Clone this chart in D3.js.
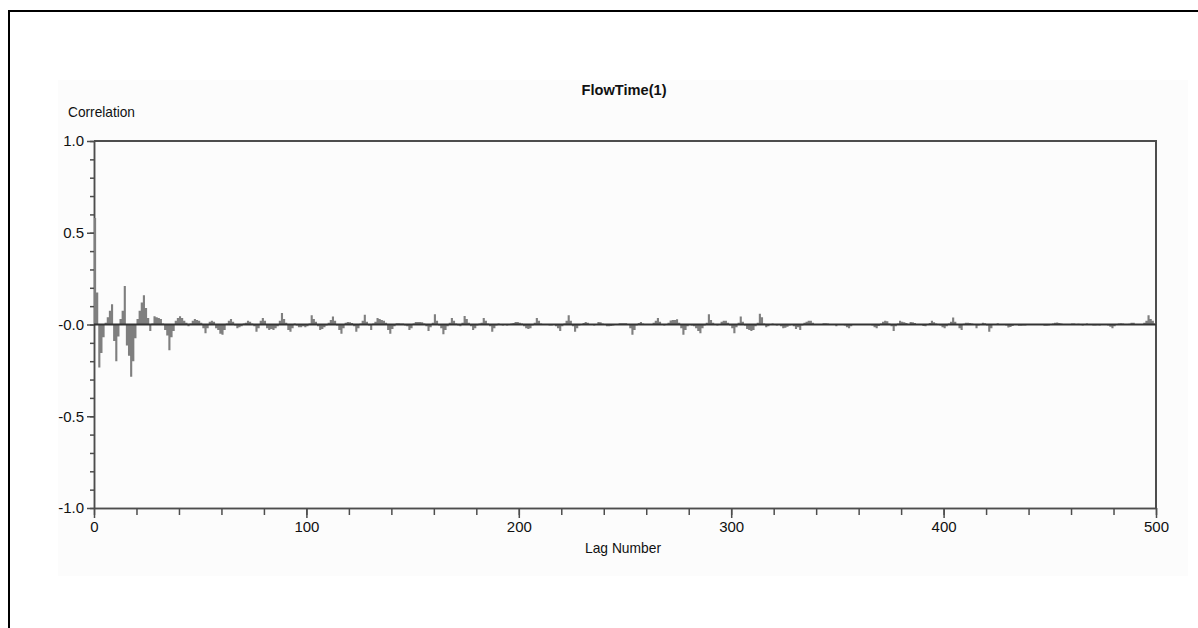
<!DOCTYPE html>
<html>
<head>
<meta charset="utf-8">
<script src="https://cdn.jsdelivr.net/npm/d3@7.9.0/dist/d3.min.js"></script>
<style>
  html, body { margin: 0; padding: 0; background: #fff; }
  svg text { font-family: "Liberation Sans", Arial, sans-serif; fill: #111; }
</style>
</head>
<body>
<svg id="chart" width="1198" height="628"></svg>
<script>
// Autocorrelation values, lags 1..500
const acf001 = [
  0.58, 0.175, -0.235, -0.155, -0.07, 0.01, 0.04, 0.075, 0.11, -0.09,
  -0.2, -0.065, 0.03, 0.075, 0.21, -0.115, -0.17, -0.285, -0.2, -0.075,
  0.03, 0.075, 0.12, 0.16, 0.09, 0.035, -0.035, 0.005, 0.045, 0.04,
  0.035, 0.03, 0.005, -0.03, -0.06, -0.14, -0.07, -0.035, 0.02, 0.035,
  0.045, 0.035, 0.02, 0.01, -0.01, 0.005, 0.02, 0.03, 0.025, 0.02,
  0.01, -0.02, -0.047, -0.02, 0.015, 0.02, 0.015, -0.02, -0.03, -0.05,
  -0.056, -0.03, 0.005, 0.02, 0.03, 0.015, -0.005, -0.02, -0.015, -0.01,
  0.005, 0.01, 0.02, 0.015, 0.005, -0.01, -0.04, -0.02, 0.02, 0.035,
  0.02, -0.02, -0.03, -0.025, -0.03, -0.02, -0.01, 0.02, 0.062, 0.03,
  0.01, -0.03, -0.04, -0.02, 0.005, -0.005, -0.015, -0.015, -0.01, -0.015
];
const acf101 = [
  -0.01, 0.005, 0.05, 0.03, 0.015, -0.01, -0.03, -0.025, -0.015, -0.005,
  0.01, 0.025, 0.044, 0.02, -0.005, -0.03, -0.05, -0.02, 0.01, 0.013,
  0.012, 0.008, -0.01, -0.04, -0.02, 0.005, 0.02, 0.053, 0.015, -0.005,
  -0.03, 0.005, 0.015, 0.035, 0.03, 0.025, 0.02, 0.01, -0.03, -0.05,
  -0.025, -0.01, 0.007, 0.007, 0.005, 0.005, -0.005, -0.01, -0.03, -0.02,
  0.005, 0.013, 0.013, 0.013, 0.012, 0.005, -0.01, -0.035, -0.015, 0.01,
  0.056, 0.02, -0.005, -0.02, -0.053, -0.03, -0.01, 0.01, 0.035, 0.02,
  0.005, -0.005, -0.01, 0.01, 0.047, 0.03, 0.01, -0.01, -0.03, -0.02,
  -0.005, 0.005, 0.01, 0.035, 0.02, 0.005, -0.01, -0.04, -0.02, -0.005,
  0.005, 0.003, -0.005, 0.0, -0.005, -0.003, 0.005, 0.008, 0.013, 0.013
];
const acf201 = [
  0.01, 0.005, -0.01, -0.02, -0.025, -0.02, -0.005, 0.01, 0.035, 0.02,
  0.005, -0.003, 0.0, 0.003, -0.005, -0.005, 0.0, -0.01, -0.02, -0.035,
  -0.01, 0.005, 0.02, 0.05, 0.02, -0.01, -0.04, -0.02, -0.005, 0.003,
  0.008, 0.013, 0.01, 0.003, -0.003, -0.005, 0.003, 0.013, 0.012, 0.005,
  -0.003, -0.01, -0.01, -0.008, -0.005, 0.0, 0.003, 0.007, 0.007, 0.007,
  0.007, 0.003, -0.02, -0.056, -0.03, -0.005, 0.008, 0.013, 0.005, -0.003,
  0.0, -0.003, 0.003, 0.01, 0.02, 0.035, 0.015, 0.0, -0.005, 0.003,
  0.01, 0.022, 0.025, 0.025, 0.028, 0.01, -0.02, -0.056, -0.03, -0.01,
  0.0, -0.005, -0.01, -0.02, -0.035, -0.047, -0.02, -0.005, 0.01, 0.056,
  0.025, 0.01, -0.003, -0.005, 0.003, 0.015, 0.02, 0.02, 0.01, -0.005
];
const acf301 = [
  -0.02, -0.047, -0.015, 0.01, 0.044, 0.015, -0.005, -0.025, -0.03, -0.035,
  -0.03, -0.01, 0.01, 0.058, 0.04, 0.005, -0.015, -0.01, 0.0, 0.005,
  0.0, -0.005, -0.003, -0.01, -0.02, -0.018, -0.012, -0.005, 0.0, -0.01,
  -0.024, -0.015, -0.03, -0.005, 0.01, 0.015, 0.02, 0.02, 0.01, 0.0,
  -0.003, 0.0, 0.003, 0.007, 0.007, 0.006, 0.003, 0.0, -0.003, -0.01,
  0.0, 0.002, 0.0, -0.005, -0.015, -0.02, -0.01, 0.0, 0.002, 0.0,
  -0.002, 0.0, 0.002, 0.0, -0.003, 0.0, -0.005, -0.015, -0.02, -0.008,
  0.005, 0.015, 0.02, 0.018, 0.005, -0.01, -0.035, -0.01, 0.005, 0.02,
  0.015, 0.012, 0.008, 0.003, 0.013, 0.012, 0.008, 0.002, 0.0, -0.003,
  -0.008, -0.01, -0.003, 0.008, 0.02, 0.012, 0.005, 0.0, -0.005, -0.015
];
const acf401 = [
  -0.02, -0.01, 0.005, 0.015, 0.038, 0.015, 0.0, -0.02, -0.03, 0.004,
  0.009, 0.009, 0.008, 0.005, 0.0, -0.02, -0.005, 0.003, 0.009, 0.007,
  -0.005, -0.04, -0.02, 0.0, 0.003, 0.007, 0.002, 0.0, -0.002, -0.005,
  -0.016, -0.014, -0.008, 0.0, -0.002, -0.007, -0.007, -0.006, -0.005, 0.0,
  0.0, 0.002, 0.0, 0.0, -0.002, 0.0, -0.003, -0.007, -0.007, -0.005,
  0.0, 0.005, 0.01, 0.011, 0.008, 0.005, 0.0, 0.002, 0.0, 0.003,
  0.005, 0.005, 0.002, 0.004, 0.003, -0.005, 0.0, 0.005, 0.002, -0.002,
  -0.005, -0.005, -0.004, -0.006, 0.0, 0.002, 0.0, -0.005, -0.012, -0.02,
  -0.01, 0.0, 0.005, 0.007, 0.006, 0.002, 0.0, 0.004, 0.01, 0.01,
  0.003, 0.0, -0.002, 0.002, 0.01, 0.02, 0.05, 0.03, 0.02, 0.005
];

const correlation = [...acf001, ...acf101, ...acf201, ...acf301, ...acf401];
const lags = correlation.map((v, i) => i + 1);

const xLabelTicks = [0, 100, 200, 300, 400, 500];
const xMinorTicks = d3.range(0, 501, 20);
const yLabelTicks = [-1, -0.5, 0, 0.5, 1];
const yMinorTicks = d3.range(-10, 11).map(d => d / 10);

const svg = d3.select('#chart');

// page frame and faint panel behind the chart
svg.append('rect')
  .attr('x', 58).attr('y', 80).attr('width', 1130).attr('height', 496)
  .attr('fill', '#fcfcfc');
svg.append('line')
  .attr('x1', 8).attr('x2', 1198).attr('y1', 11).attr('y2', 11)
  .attr('stroke', '#000').attr('stroke-width', 2);
svg.append('line')
  .attr('x1', 9).attr('x2', 9).attr('y1', 10).attr('y2', 628)
  .attr('stroke', '#000').attr('stroke-width', 2);

let x = d3.scaleLinear().domain([0, 500]).range([94, 1156]);
let y = d3.scaleLinear().domain([-1, 1]).range([508, 141]);

const axisColor = '#4d4d4d';

// plot box top and right
svg.append('path')
  .attr('d', `M${x(0)},${y(1)}H${x(500)}V${y(-1)}`)
  .attr('fill', 'none')
  .attr('stroke', axisColor).attr('stroke-width', 2);

// y axis
let yMinor = svg.append('g')
  .attr('transform', `translate(${x(0)},0)`)
  .call(d3.axisLeft(y).tickValues(yMinorTicks).tickSize(4).tickSizeOuter(0).tickFormat(''));
let yMajor = svg.append('g')
  .attr('transform', `translate(${x(0)},0)`)
  .call(d3.axisLeft(y).tickValues(yLabelTicks).tickSize(7).tickSizeOuter(0).tickPadding(3)
    .tickFormat(d => d === 0 ? '-0.0' : d3.format('.1f')(d).replace('\u2212', '-')));

// x axis
let xMinor = svg.append('g')
  .attr('transform', `translate(0,${y(-1)})`)
  .call(d3.axisBottom(x).tickValues(xMinorTicks).tickSize(7).tickSizeOuter(0).tickFormat(''));
let xMajor = svg.append('g')
  .attr('transform', `translate(0,${y(-1)})`)
  .call(d3.axisBottom(x).tickValues(xLabelTicks).tickSize(10).tickSizeOuter(0).tickPadding(3)
    .tickFormat(d3.format('d')));

[yMinor, yMajor, xMinor, xMajor].forEach(g => {
  g.selectAll('.domain').attr('stroke', axisColor).attr('stroke-width', 1.5);
  g.selectAll('.tick line').attr('stroke', axisColor).attr('stroke-width', 1.5);
  g.selectAll('.tick text')
    .style('font-family', '"Liberation Sans", Arial, sans-serif')
    .attr('font-size', 15).attr('fill', '#111');
});

// bars as one stepped area: each lag spans [lag-1, lag]
let stepPoints = lags.map((lag, i) => ({ start: lag - 1, value: correlation[i] }));
stepPoints.push({ start: 500, value: correlation[correlation.length - 1] });

let barArea = d3.area()
  .x(d => x(d.start))
  .y0(y(0))
  .y1(d => y(d.value))
  .curve(d3.curveStepAfter);

svg.append('path')
  .datum(stepPoints)
  .attr('d', barArea)
  .attr('fill', '#7f7f7f');

// zero line
svg.append('line')
  .attr('x1', x(0)).attr('x2', x(500))
  .attr('y1', y(0)).attr('y2', y(0))
  .attr('stroke', '#333').attr('stroke-width', 2);

// titles
svg.append('text')
  .attr('x', 624).attr('y', 95)
  .attr('text-anchor', 'middle')
  .attr('font-size', 15).attr('font-weight', 'bold')
  .attr('textLength', 85).attr('lengthAdjust', 'spacingAndGlyphs')
  .text('FlowTime(1)');

svg.append('text')
  .attr('x', 68).attr('y', 117)
  .attr('font-size', 15)
  .attr('textLength', 67).attr('lengthAdjust', 'spacingAndGlyphs')
  .text('Correlation');

svg.append('text')
  .attr('x', 623).attr('y', 553)
  .attr('text-anchor', 'middle')
  .attr('font-size', 15)
  .attr('textLength', 76).attr('lengthAdjust', 'spacingAndGlyphs')
  .text('Lag Number');
</script>
</body>
</html>
